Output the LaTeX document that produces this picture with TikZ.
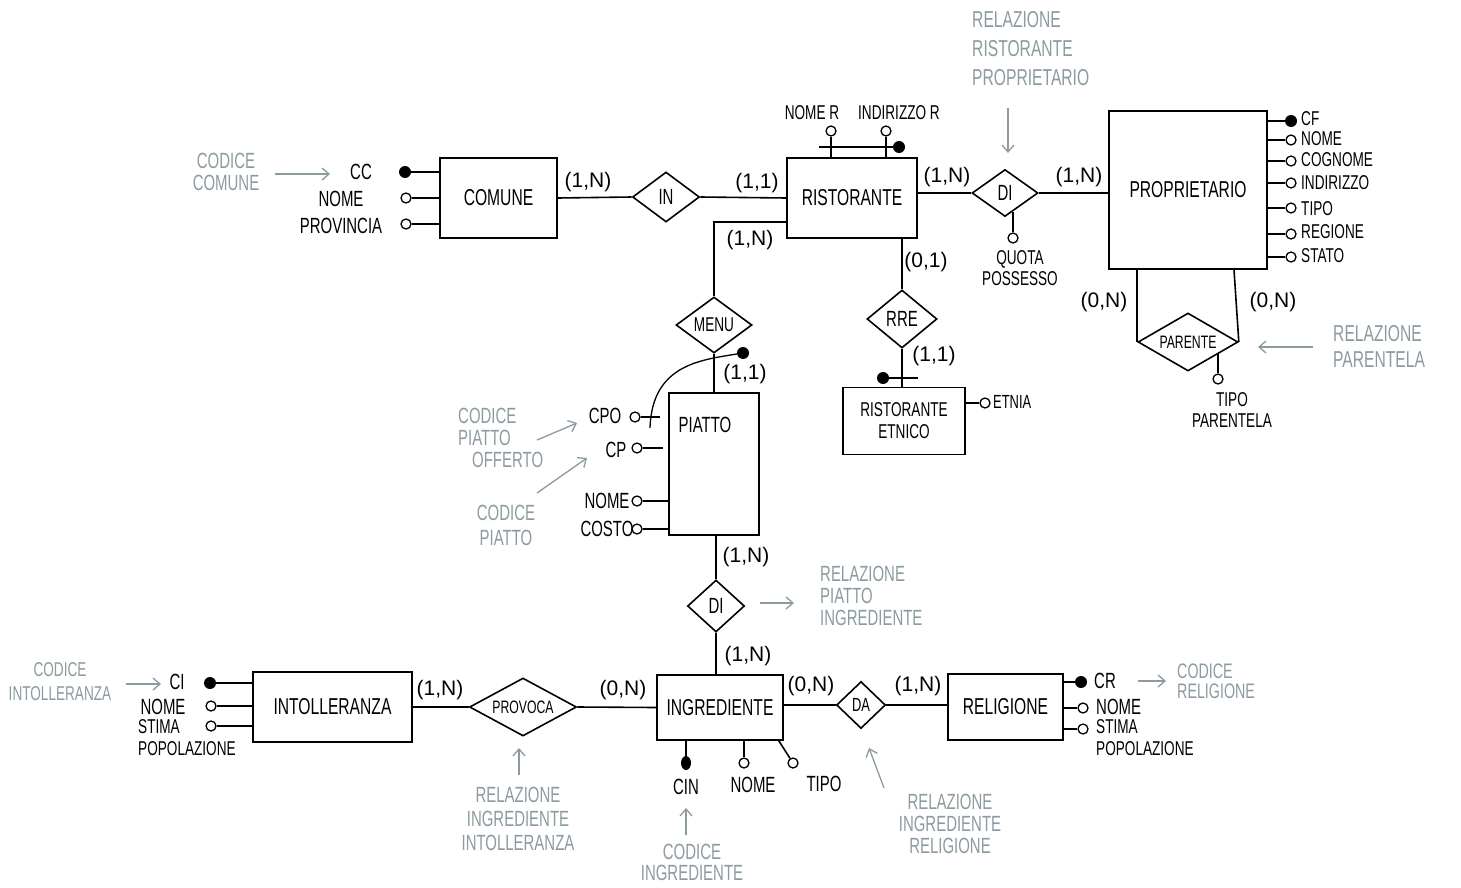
\documentclass[tikz,border=0pt]{standalone}
\usepackage{fontspec}
\setmainfont{Liberation Sans}[FakeStretch=0.68]
\newfontfamily\cardfont{Liberation Sans}
\usetikzlibrary{shapes.geometric,arrows.meta}
\definecolor{anngrey}{RGB}{140,155,160}
\tikzset{
  ent/.style={draw, line width=1.6pt, inner sep=0pt, align=center, font=\fontsize{23}{25}\selectfont},
  rel/.style 2 args={draw, diamond, line width=1.6pt, inner sep=0pt, minimum width=#1, minimum height=#2},
  reltext/.style={inner sep=0pt, font=\fontsize{22}{22}\selectfont},
  conn/.style={line width=1.6pt},
  attr/.style={circle, draw, line width=1.3pt, fill=white, inner sep=0pt, minimum size=10pt},
  keyattr/.style={circle, fill=black, inner sep=0pt, minimum size=12pt},
  atext/.style={inner sep=0pt, align=left, font=\fontsize{22}{22}\selectfont},
  ptext/.style={inner sep=0pt, anchor=west, font=\fontsize{20}{20}\selectfont},
  card/.style={inner sep=0pt, font=\cardfont\fontsize{21}{22}\selectfont},
  ann/.style={inner sep=0pt, text=anngrey, align=center, font=\fontsize{22}{22}\selectfont},
  annarrow/.style={draw=anngrey, line width=1.3pt, -{Straight Barb[length=7pt,width=12pt]}},
}
\begin{document}
\begin{tikzpicture}[x=1pt,y=-1pt]
\fill[white] (0,0) rectangle (1461,888);
\useasboundingbox (0,0) rectangle (1461,888);

% ---------- entities ----------
\node[ent, minimum width=117pt, minimum height=80pt] (comune) at (498.5,198) {COMUNE};
\node[ent, minimum width=130pt, minimum height=80pt] (ristorante) at (852,198) {RISTORANTE};
\node[ent, minimum width=158pt, minimum height=158pt] (proprietario) at (1188,190) {PROPRIETARIO};
\node[ent, minimum width=90pt, minimum height=142pt] (piatto) at (714,464) {};
\node[atext, font=\fontsize{22}{23}\selectfont] (piattolbl) at (705,425) {PIATTO};
\node[ent, minimum width=122pt, minimum height=67pt, font=\fontsize{20}{22}\selectfont] (etnico) at (904,421) {RISTORANTE\\ETNICO};
\node[ent, minimum width=159pt, minimum height=70pt] (intolleranza) at (332.5,707) {INTOLLERANZA};
\node[ent, minimum width=126pt, minimum height=65pt] (ingrediente) at (720,707.5) {INGREDIENTE};
\node[ent, minimum width=115pt, minimum height=66pt] (religione) at (1005.5,707) {RELIGIONE};

% ---------- relationships ----------
\node[rel={67pt}{50pt}] (in) at (666,197) {};
\node[reltext] (inlbl) at (in) {IN};
\node[rel={66pt}{47pt}] (di1) at (1005,193) {};
\node[reltext] (di1lbl) at (di1) {DI};
\node[rel={76pt}{56pt}] (menu) at (714,325) {};
\node[reltext, font=\fontsize{20}{20}\selectfont] (menulbl) at (menu) {MENU};
\node[rel={70pt}{58pt}] (rre) at (902,319) {};
\node[reltext] (rrelbl) at (rre) {RRE};
\node[rel={100pt}{58pt}] (parente) at (1188,342) {};
\node[reltext, font=\fontsize{18}{20}\selectfont] (parentelbl) at (parente) {PARENTE};
\node[rel={57pt}{52pt}] (di2) at (716,606) {};
\node[reltext] (di2lbl) at (di2) {DI};
\node[rel={107pt}{58pt}] (provoca) at (523,707) {};
\node[reltext, font=\fontsize{18}{20}\selectfont] (provocalbl) at (provoca) {PROVOCA};
\node[rel={49pt}{47pt}] (da) at (861,705) {};
\node[reltext, font=\fontsize{19}{20}\selectfont] (dalbl) at (da) {DA};

% ---------- connectors ----------
\draw[conn] (comune.east) -- (in.west);
\draw[conn] (in.east) -- (ristorante.west);
\draw[conn] (di1.west -| ristorante.east) -- (di1.west);
\draw[conn] (di1.east) -- (di1.east -| proprietario.west);
\draw[conn] ([yshift=-24pt]ristorante.west) -| (menu.north);
\draw[conn] (menu.south) -- (menu.south |- piatto.north);
\draw[conn] (rre.north |- ristorante.south) -- (rre.north);
\draw[conn] (rre.south) -- (rre.south |- etnico.north);
\draw[conn] (parente.west |- proprietario.south) -- (parente.west);
\draw[conn] ([xshift=46pt]proprietario.south) -- (parente.east);
\draw[conn] (di2.north |- piatto.south) -- (di2.north);
\draw[conn] (di2.south) -- (di2.south |- ingrediente.north);
\draw[conn] (intolleranza.east) -- (provoca.west);
\draw[conn] (provoca.east) -- (ingrediente.west);
\draw[conn] (da.west -| ingrediente.east) -- (da.west);
\draw[conn] (da.east) -- (da.east -| religione.west);

% ---------- cardinalities ----------
\node[card] (c1) at (588,182) {(1,N)};
\node[card] (c2) at (757,183) {(1,1)};
\node[card] (c3) at (947,177) {(1,N)};
\node[card] (c4) at (1079,177) {(1,N)};
\node[card] (c5) at (750,240) {(1,N)};
\node[card] (c6) at (745,374) {(1,1)};
\node[card] (c7) at (926,262) {(0,1)};
\node[card] (c8) at (934,356) {(1,1)};
\node[card] (c9) at (1104,302) {(0,N)};
\node[card] (c10) at (1273,302) {(0,N)};
\node[card] (c11) at (746,557) {(1,N)};
\node[card] (c12) at (748,656) {(1,N)};
\node[card] (c13) at (440,690) {(1,N)};
\node[card] (c14) at (623,690) {(0,N)};
\node[card] (c15) at (811,686) {(0,N)};
\node[card] (c16) at (918,686) {(1,N)};

% ---------- COMUNE attributes ----------
\node[keyattr] (cc) at (405,172) {};
\node[attr] (cnome) at (406,198) {};
\node[attr] (cprov) at (406,224) {};
\draw[conn] (cc) -- (comune.west |- cc);
\draw[conn] (cnome) -- (comune.west |- cnome);
\draw[conn] (cprov) -- (comune.west |- cprov);
\node[atext] (cctxt) at (361,172) {CC};
\node[atext] (cnometxt) at (341,199) {NOME};
\node[atext] (cprovtxt) at (341,226) {PROVINCIA};

% ---------- RISTORANTE attributes ----------
\node[attr] (rnome) at (831,131) {};
\node[attr] (rind) at (886,131) {};
\draw[conn] (rnome) -- (rnome |- ristorante.north);
\draw[conn] (rind) -- (rind |- ristorante.north);
\coordinate (ridl) at (819,147);
\node[keyattr] (rid) at (899,147) {};
\draw[conn] (ridl) -- (rid);
\node[atext, font=\fontsize{20}{22}\selectfont] (rnometxt) at (812,113) {NOME R};
\node[atext, font=\fontsize{20}{22}\selectfont] (rindtxt) at (899,113) {INDIRIZZO R};

% ---------- DI quota possesso ----------
\node[attr] (qp) at (1013,238) {};
\draw[conn] (qp) -- (qp |- di1.-67);
\node[atext, align=center, font=\fontsize{20}{21}\selectfont] (qptxt) at (1020,268) {QUOTA\\POSSESSO};

% ---------- PROPRIETARIO attributes ----------
\node[keyattr] (pcf) at (1291,121) {};
\node[attr] (pnome) at (1291,140) {};
\node[attr] (pcogn) at (1291,161) {};
\node[attr] (pind) at (1291,183) {};
\node[attr] (ptipo) at (1291,208) {};
\node[attr] (preg) at (1291,234) {};
\node[attr] (pstato) at (1291,257) {};
\foreach \a in {pcf,pnome,pcogn,pind,ptipo,preg,pstato}
  \draw[conn] (\a) -- (proprietario.east |- \a);
\node[ptext] (pcftxt) at (1301,119) {CF};
\node[ptext] (pnometxt) at (1301,139) {NOME};
\node[ptext] (pcogntxt) at (1301,160) {COGNOME};
\node[ptext] (pindtxt) at (1301,183) {INDIRIZZO};
\node[ptext] (ptipotxt) at (1301,209) {TIPO};
\node[ptext] (pregtxt) at (1301,232) {REGIONE};
\node[ptext] (pstatotxt) at (1301,256) {STATO};

% ---------- PARENTE attribute ----------
\node[attr] (tpar) at (1218,379) {};
\draw[conn] (tpar) -- (tpar |- parente.-21);
\node[atext, align=center, font=\fontsize{20}{21}\selectfont] (tpartxt) at (1232,410) {TIPO\\PARENTELA};

% ---------- RISTORANTE ETNICO ----------
\node[keyattr] (rredot) at (883,378) {};
\coordinate (rreend) at (918,378);
\draw[conn] (rredot) -- (rreend);
\node[attr] (etnia) at (985,403) {};
\draw[conn] (etnia) -- (etnico.east |- etnia);
\node[atext, anchor=west, font=\fontsize{19}{20}\selectfont] (etniatxt) at (993,402) {ETNIA};

% ---------- PIATTO attributes ----------
\node[attr] (cpo) at (635,417) {};
\coordinate (cpoend) at (660,417);
\draw[conn] (cpo) -- (cpoend);
\node[keyattr] (mdot) at (743,353) {};
\coordinate (tick) at (650,428);
\draw[conn, line width=1.3pt] (mdot) .. controls (700,360) and (652,365) .. (tick);
\node[attr] (cp) at (637,448) {};
\coordinate (cpend) at (663,448);
\draw[conn] (cp) -- (cpend);
\node[attr] (pinome) at (637,501) {};
\node[attr] (picosto) at (637,529) {};
\draw[conn] (pinome) -- (piatto.west |- pinome);
\draw[conn] (picosto) -- (piatto.west |- picosto);
\node[atext] (cpotxt) at (605,416) {CPO};
\node[atext] (cptxt) at (616,450) {CP};
\node[atext] (pinometxt) at (607,501) {NOME};
\node[atext] (picostotxt) at (607,529) {COSTO};

% ---------- INTOLLERANZA attributes ----------
\node[keyattr] (ci) at (210,683) {};
\node[attr] (inome) at (211,706) {};
\node[attr] (istima) at (211,726) {};
\draw[conn] (ci) -- (intolleranza.west |- ci);
\draw[conn] (inome) -- (intolleranza.west |- inome);
\draw[conn] (istima) -- (intolleranza.west |- istima);
\node[atext] (citxt) at (177,682) {CI};
\node[atext] (inometxt) at (163,707) {NOME};
\node[atext, anchor=north west, font=\fontsize{20}{22}\selectfont] (istimatxt) at (138,719) {STIMA\\POPOLAZIONE};

% ---------- INGREDIENTE attributes ----------
\node[keyattr, minimum width=10pt, minimum height=14pt, ellipse] (cin) at (686,763) {};
\node[attr] (gnome) at (744,763) {};
\node[attr] (gtipo) at (793,763) {};
\draw[conn] (cin) -- (cin |- ingrediente.south);
\draw[conn] (gnome) -- (gnome |- ingrediente.south);
\draw[conn] (gtipo) -- ([xshift=-5pt]ingrediente.south east);
\node[atext] (cintxt) at (686,787) {CIN};
\node[atext] (gnometxt) at (753,785) {NOME};
\node[atext] (gtipotxt) at (824,784) {TIPO};

% ---------- RELIGIONE attributes ----------
\node[keyattr] (cr) at (1081,682) {};
\node[attr] (rlnome) at (1083,708) {};
\node[attr] (rlstima) at (1083,729) {};
\draw[conn] (cr) -- (religione.east |- cr);
\draw[conn] (rlnome) -- (religione.east |- rlnome);
\draw[conn] (rlstima) -- (religione.east |- rlstima);
\node[atext, anchor=west] (crtxt) at (1094,681) {CR};
\node[atext, anchor=west] (rlnometxt) at (1096,707) {NOME};
\node[atext, anchor=north west, font=\fontsize{20}{22}\selectfont] (rlstimatxt) at (1096,719) {STIMA\\POPOLAZIONE};

% ---------- annotations ----------
\node[ann] (anncc) at (226,172) {CODICE\\COMUNE};
\coordinate (a1s) at (275,174); \coordinate (a1e) at (330,174);
\draw[annarrow] (a1s) -- (a1e);

\node[ann, align=left, anchor=west, font=\fontsize{23}{29}\selectfont] (annrp) at (972,49) {RELAZIONE\\RISTORANTE\\PROPRIETARIO};
\coordinate (a2s) at (1008,108); \coordinate (a2e) at (1008,153);
\draw[annarrow] (a2s) -- (a2e);

\node[ann, align=left, anchor=west, font=\fontsize{23}{26}\selectfont] (annpar) at (1333,346) {RELAZIONE\\PARENTELA};
\coordinate (a3s) at (1313,347); \coordinate (a3e) at (1258,347);
\draw[annarrow] (a3s) -- (a3e);

\node[ann, align=left, anchor=west] (annpo) at (458,438) {CODICE\\PIATTO\\\hspace*{14pt}OFFERTO};
\coordinate (a4s) at (537,440); \coordinate (a4e) at (577,423);
\draw[annarrow] (a4s) -- (a4e);

\node[ann, font=\fontsize{22}{25}\selectfont] (annp) at (506,525) {CODICE\\PIATTO};
\coordinate (a5s) at (537,493); \coordinate (a5e) at (587,458);
\draw[annarrow] (a5s) -- (a5e);

\node[ann, align=left, anchor=west] (annpi) at (820,596) {RELAZIONE\\PIATTO\\INGREDIENTE};
\coordinate (a6s) at (760,603); \coordinate (a6e) at (794,603);
\draw[annarrow] (a6s) -- (a6e);

\node[ann, font=\fontsize{20}{24}\selectfont] (annci) at (60,682) {CODICE\\INTOLLERANZA};
\coordinate (a7s) at (126,684); \coordinate (a7e) at (161,684);
\draw[annarrow] (a7s) -- (a7e);

\node[ann, font=\fontsize{22}{24}\selectfont] (annii) at (518,819) {RELAZIONE\\INGREDIENTE\\INTOLLERANZA};
\coordinate (a8s) at (519,775); \coordinate (a8e) at (519,748);
\draw[annarrow] (a8s) -- (a8e);

\node[ann] (annir) at (950,824) {RELAZIONE\\INGREDIENTE\\RELIGIONE};
\coordinate (a9s) at (884,788); \coordinate (a9e) at (869,748);
\draw[annarrow] (a9s) -- (a9e);

\node[ann, font=\fontsize{22}{21}\selectfont] (anncin) at (692,862) {CODICE\\INGREDIENTE};
\coordinate (a10s) at (686,835); \coordinate (a10e) at (686,808);
\draw[annarrow] (a10s) -- (a10e);

\node[ann, align=left, anchor=west, font=\fontsize{21}{20}\selectfont] (anncr) at (1177,681) {CODICE\\RELIGIONE};
\coordinate (a11s) at (1138,681); \coordinate (a11e) at (1166,681);
\draw[annarrow] (a11s) -- (a11e);
\end{tikzpicture}
\end{document}
